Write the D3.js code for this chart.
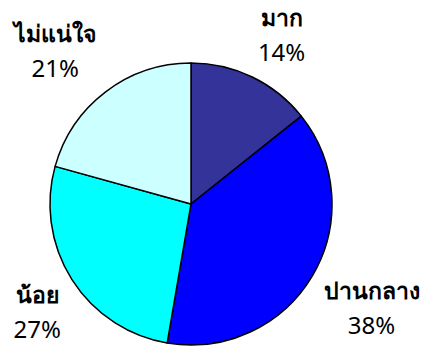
<!DOCTYPE html>
<html>
<head>
<meta charset="utf-8">
<script src="https://cdn.jsdelivr.net/npm/d3@7"></script>
<style>
  body { margin: 0; background: #fff; }
  text { font-family: "Noto Sans", "DejaVu Sans", sans-serif; font-size: 24px; fill: #000; }
  .name { font-weight: bold; font-size: 23px; }
</style>
</head>
<body>
<script>
// SVG size
var width = 426,
    height = 349;

// Data (slice sizes estimated from the angles,
// labels show them rounded)
var categories = ["มาก", "ปานกลาง", "น้อย", "ไม่แน่ใจ"];
var values = [14.3, 38.4, 26.6, 20.7];
var colors = ["#333399", "#0000FF", "#00FFFF", "#CCFFFF"];

var data = categories.map(function(c, i) {
  return { name: c, value: values[i], color: colors[i] };
});

var cx = 191, cy = 204, radius = 141;
var labelDist = 154;   // inner corner of each label box sits here
var topOff = 30.5,     // label block offsets above / below that corner
    bottomOff = 25.5;

var svg = d3.select("body").append("svg")
  .attr("width", width)
  .attr("height", height);

var g = svg.append("g")
  .attr("transform", "translate(" + cx + "," + cy + ")");

var pie = d3.pie()
  .sort(null)
  .value(function(d) { return d.value; });

var arc = d3.arc()
  .innerRadius(0)
  .outerRadius(radius);

var arcs = pie(data);

// Slices
g.selectAll("path")
  .data(arcs)
  .enter()
  .append("path")
    .attr("d", arc)
    .attr("fill", function(d) { return d.data.color; })
    .attr("stroke", "#000")
    .attr("stroke-width", 1.5)
    .attr("stroke-linejoin", "round");

// Labels: name + rounded percent
var labels = g.selectAll("g.label")
  .data(arcs)
  .enter()
  .append("g")
    .attr("class", "label");

labels.append("text")
  .attr("class", "name")
  .attr("text-anchor", "middle")
  .attr("y", -9)
  .text(function(d) { return d.data.name; });

labels.append("text")
  .attr("text-anchor", "middle")
  .attr("y", 26)
  .text(function(d) { return Math.round(d.data.value) + "%"; });

labels.attr("transform", function(d) {
  var w = this.getBBox().width;
  var a = (d.startAngle + d.endAngle) / 2;
  var ux = Math.sin(a), uy = -Math.cos(a);
  var x = ux * labelDist + (ux >= 0 ? 1 : -1) * w / 2;
  var y = uy * labelDist + (uy >= 0 ? bottomOff : -topOff);
  return "translate(" + x + "," + y + ")";
});
</script>
</body>
</html>
